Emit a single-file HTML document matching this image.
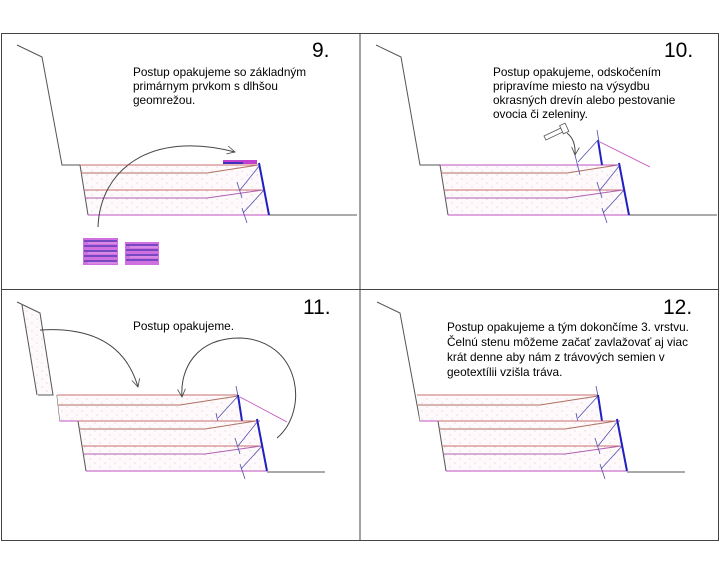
<!DOCTYPE html>
<html><head><meta charset="utf-8"><style>
html,body{margin:0;padding:0;background:#fff;}
svg{display:block;}
text{font-family:"Liberation Sans",sans-serif;fill:#000;}
.t{font-size:11.8px;}
.n{font-size:21px;}
</style></head><body>
<svg width="720" height="576" viewBox="0 0 720 576" xmlns="http://www.w3.org/2000/svg">
<defs>
<pattern id="dots" width="10" height="8" patternUnits="userSpaceOnUse">
<rect width="10" height="8" fill="#fefafc"/>
<circle cx="2" cy="3" r="0.5" fill="#d0b0c8"/>
<circle cx="7" cy="7" r="0.5" fill="#d0b0c8"/>
</pattern>
<marker id="ah" markerWidth="10" markerHeight="10" refX="8" refY="5" orient="auto" markerUnits="userSpaceOnUse">
<path d="M0,1 L8,5 L0,9" fill="none" stroke="#444" stroke-width="0.8"/>
</marker>
<g id="low">
<polygon points="80,165 258,165 269,215 88,215" fill="url(#dots)" stroke="none"/>
<path d="M80,165 L88,215" stroke="#555" stroke-width="1" fill="none"/>
<path d="M80,165 L258,165" stroke="#c87070" stroke-width="1" fill="none"/>
<path d="M81,173 L207,173 L258,165" stroke="#b07060" stroke-width="1" fill="none"/>
<path d="M84,190 L263,190" stroke="#c87070" stroke-width="1" fill="none"/>
<path d="M85,198 L207,198 L263,190" stroke="#b060b0" stroke-width="1" fill="none"/>
<path d="M88,215 L269,215" stroke="#c050c0" stroke-width="1" fill="none"/>
<path d="M260,165 L240,190 M264,190 L243,213" stroke="#5050b0" stroke-width="0.8" fill="none"/>
<path d="M237,182 L242,198 M242,208 L247,223" stroke="#5050b0" stroke-width="0.8" fill="none"/>
<path d="M259,163 L269,215" stroke="#2020c0" stroke-width="2" fill="none"/>
</g>
<g id="up">
<polygon points="57,395 238,395 242,421 60,421" fill="url(#dots)"/>
<path d="M57,395 L238,395" stroke="#c87070" stroke-width="1" fill="none"/>
<path d="M58,405 L180,405 L238,396" stroke="#b07060" stroke-width="1" fill="none"/>
<path d="M60,421 L260,421" stroke="#c050c0" stroke-width="1" fill="none"/>
<path d="M238,396 L218,418 M216,413 L220,432 M236,386 L238,396" stroke="#5050b0" stroke-width="0.8" fill="none"/>
<path d="M238,395 L242,421" stroke="#2020c0" stroke-width="2" fill="none"/>
</g>
</defs>
<rect x="0" y="0" width="720" height="576" fill="#fff"/>
<rect x="1.5" y="33.5" width="717" height="507" fill="none" stroke="#444" stroke-width="1"/>
<path d="M360,33 L360,541 M1,289.5 L719,289.5" stroke="#444" stroke-width="1"/>

<!-- Panel 9 -->
<path d="M17,45 L42,57 L62,165 L80,165" stroke="#555" fill="none"/>
<path d="M269,215 L357,215" stroke="#555" fill="none"/>
<use href="#low"/>
<rect x="223" y="160" width="34" height="4" fill="#c040d0"/>
<rect x="223" y="162" width="20" height="2" fill="#4030c0"/>
<path d="M98,227 C100,170 150,130 235,152" stroke="#444" fill="none" marker-end="url(#ah)"/>
<g>
<rect x="83" y="238" width="35" height="27" fill="#d070e0"/>
<rect x="125" y="242" width="34" height="23" fill="#d070e0"/>
<path d="M84,241 H117 M84,246 H117 M84,251 H117 M84,256 H117 M84,261 H117 M126,245 H158 M126,250 H158 M126,255 H158 M126,260 H158" stroke="#4030b0" stroke-width="1.2"/>
<path d="M88,243 H117 M88,253 H117 M88,263 H117 M130,247 H158 M130,257 H158" stroke="#fff" stroke-width="0.6" opacity="0.7"/>
</g>
<text class="n" x="312" y="57">9.</text>
<text class="t" x="133" y="76">Postup opakujeme so základným</text>
<text class="t" x="133" y="90">primárnym prvkom s dlhšou</text>
<text class="t" x="133" y="104">geomrežou.</text>

<!-- Panel 10 -->
<path d="M376,45 L401,57 L420,165 L440,165" stroke="#555" fill="none"/>
<path d="M629,215 L717,215" stroke="#555" fill="none"/>
<use href="#low" transform="translate(360,0)"/>
<path d="M440,165 L618,165" stroke="#c050c0" stroke-width="1"/>
<path d="M598,140 L602,165" stroke="#2020c0" stroke-width="2"/>
<path d="M600,142 L650,167" stroke="#c050c0" stroke-width="0.8" fill="none"/>
<path d="M598,140 L578,162" stroke="#5050b0" stroke-width="0.8"/>
<path d="M597,130 L599,142 M575,155 L580,175" stroke="#5050b0" stroke-width="0.8"/>
<g stroke="#555" fill="#fff" stroke-width="0.8">
<path d="M544,136 L563,127 L565,131 L546,140 Z"/>
<rect x="561" y="124" width="6" height="9" transform="rotate(-25 564 128)"/>
</g>
<path d="M567,133 Q576,140 575,155" stroke="#444" fill="none" marker-end="url(#ah)"/>
<text class="n" x="664" y="57">10.</text>
<text class="t" x="493" y="76">Postup opakujeme, odskočením</text>
<text class="t" x="493" y="90">pripravíme miesto na výsydbu</text>
<text class="t" x="493" y="104">okrasných drevín alebo pestovanie</text>
<text class="t" x="493" y="118">ovocia či zeleniny.</text>

<!-- Panel 11 -->
<polygon points="22,305 40,313 53,395 37,395" fill="url(#dots)"/>
<path d="M17,302 L40,313 L53,395 L38,395 M22,305 L37,395" stroke="#555" fill="none"/>
<path d="M57,395 L60,421 L78,421" stroke="#555" fill="none"/>
<use href="#up"/>
<use href="#low" transform="translate(-2,256)"/>
<path d="M267,472 L325,472" stroke="#555" fill="none"/>
<path d="M240,397 L287,422" stroke="#c050c0" stroke-width="0.8"/>
<path d="M40,330 Q120,325 138,387" stroke="#444" fill="none" marker-end="url(#ah)"/>
<path d="M277,438 C310,410 300,340 240,338 C195,338 180,370 182,397" stroke="#444" fill="none" marker-end="url(#ah)"/>
<text class="n" x="303" y="314">11.</text>
<text class="t" x="133" y="330">Postup opakujeme.</text>

<!-- Panel 12 -->
<path d="M377,302 L400,313 L420,421 L438,421" stroke="#555" fill="none"/>
<use href="#up" transform="translate(360,0)"/>
<use href="#low" transform="translate(358,256)"/>
<path d="M627,472 L685,472" stroke="#555" fill="none"/>
<text class="n" x="663" y="314">12.</text>
<text class="t" x="447" y="331">Postup opakujeme a tým dokončíme 3. vrstvu.</text>
<text class="t" x="447" y="346">Čelnú stenu môžeme začať zavlažovať aj viac</text>
<text class="t" x="447" y="361">krát denne aby nám z trávových semien v</text>
<text class="t" x="447" y="376">geotextílii vzišla tráva.</text>
</svg>
</body></html>
